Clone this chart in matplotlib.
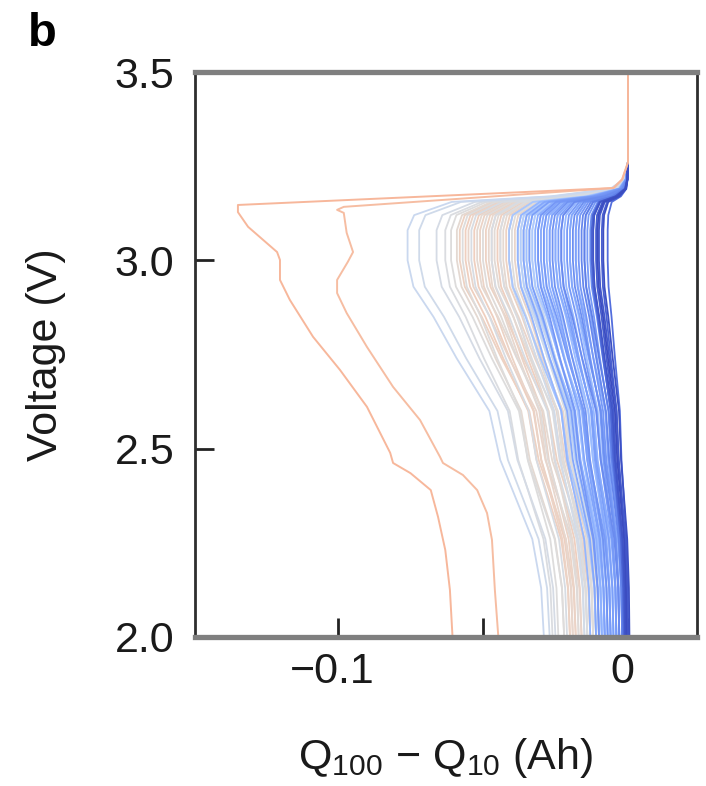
import numpy as np
import matplotlib
matplotlib.use("Agg")
import matplotlib.pyplot as plt
import matplotlib as mpl
import matplotlib.transforms as mtransforms

mpl.rc('font', family=['Liberation Sans', 'DejaVu Sans'], size=31)
mpl.rc('mathtext', fontset='custom', rm='Liberation Sans', it='Liberation Sans',
       default='regular')

# voltage grid of the shape template (V), and how much of the peak / end
# delta-Q each cell's curve carries at that voltage
tmpl_v = [3.50, 3.26, 3.215, 3.19, 3.17, 3.155, 3.12, 3.08, 3.00, 2.93,
          2.85, 2.74, 2.60, 2.47, 2.39, 2.26, 2.13, 2.00]
tmpl_peak = [0, 0, 0.02, 0.08, 0.35, 0.80, 0.97, 1.0, 1.0, 0.957,
             0.81, 0.64, 0.40, 0.32, 0.23, 0.085, 0.02, 0]
tmpl_end = [0, 0, 0, 0, 0, 0, 0, 0, 0, 0.043,
            0.19, 0.36, 0.60, 0.68, 0.77, 0.915, 0.98, 1.0]

# per cell: dQ near 3.0 V, dQ at 2.0 V (Ah), colour position (0 blue .. 1 red)
peak_dq = [
    -0.076, -0.072, -0.066, -0.063, -0.061,
    -0.059, -0.058, -0.057, -0.056, -0.055, -0.054, -0.053, -0.052, -0.051,
    -0.050, -0.049, -0.048, -0.047, -0.047, -0.046, -0.045, -0.044, -0.044,
    -0.043, -0.042, -0.041, -0.041, -0.040, -0.039, -0.038, -0.038, -0.037,
    -0.036, -0.036, -0.035, -0.034, -0.033,
    -0.041, -0.038, -0.037, -0.036, -0.035, -0.034, -0.033, -0.032, -0.031,
    -0.031, -0.030, -0.029, -0.029, -0.028, -0.027, -0.027, -0.026, -0.025,
    -0.025, -0.024, -0.023, -0.023, -0.022, -0.021, -0.020, -0.020, -0.019,
    -0.018, -0.018, -0.017, -0.016, -0.015, -0.015, -0.014, -0.013, -0.012,
    -0.0125, -0.012, -0.011, -0.0105, -0.010, -0.009, -0.0085, -0.007,
]
end_dq = [
    -0.029, -0.027, -0.025, -0.026, -0.022,
    -0.022, -0.018, -0.024, -0.020, -0.016, -0.021, -0.019, -0.014, -0.020,
    -0.017, -0.013, -0.019, -0.015, -0.018, -0.012, -0.016, -0.014, -0.011,
    -0.017, -0.013, -0.015, -0.010, -0.014, -0.012, -0.009, -0.013, -0.011,
    -0.008, -0.012, -0.010, -0.009, -0.011,
    -0.011, -0.013, -0.009, -0.011, -0.008, -0.010, -0.007, -0.009, -0.010,
    -0.006, -0.008, -0.009, -0.006, -0.007, -0.008, -0.005, -0.007, -0.004,
    -0.006, -0.005, -0.006, -0.003, -0.005, -0.004, -0.002, -0.004, -0.003,
    -0.004, -0.001, -0.003, -0.002, -0.003, -0.001, -0.002, -0.001, -0.002,
    -0.0015, -0.001, -0.001, -0.0005, 0.0, -0.0005, 0.0005, 0.0,
]
life_color = [
    0.43, 0.45, 0.47, 0.49, 0.50,
    0.53, 0.57, 0.50, 0.58, 0.55, 0.48, 0.58, 0.53, 0.56,
    0.51, 0.57, 0.54, 0.48, 0.56, 0.52, 0.58, 0.49, 0.55,
    0.53, 0.57, 0.46, 0.54, 0.50, 0.55, 0.44, 0.52, 0.48,
    0.42, 0.50, 0.46, 0.41, 0.44,
    0.33, 0.27, 0.36, 0.23, 0.30, 0.20, 0.34, 0.25, 0.18,
    0.29, 0.22, 0.31, 0.19, 0.26, 0.21, 0.34, 0.17, 0.24,
    0.29, 0.20, 0.23, 0.15, 0.27, 0.19, 0.22, 0.31, 0.16,
    0.21, 0.26, 0.18, 0.14, 0.23, 0.12, 0.19, 0.16, 0.13,
    0.06, 0.02, 0.04, 0.0, 0.03, 0.05, 0.01, 0.08,
]

# the two short-lived cells, traced point by point
red1_v = [3.50, 3.26, 3.215, 3.192, 3.147, 3.128, 3.089, 3.022, 3.001, 2.948,
          2.895, 2.797, 2.709, 2.611, 2.489, 2.462, 2.435, 2.390, 2.319,
          2.231, 2.125, 2.00]
red1_dq = [0, 0, -0.002, -0.005, -0.1345, -0.1345, -0.131, -0.121, -0.120,
           -0.120, -0.1166, -0.1086, -0.0993, -0.090, -0.082, -0.081, -0.075,
           -0.068, -0.0655, -0.063, -0.0614, -0.0605]
red2_v = [3.50, 3.26, 3.215, 3.192, 3.142, 3.134, 3.126, 3.073, 3.022, 2.996,
          2.948, 2.913, 2.860, 2.770, 2.664, 2.576, 2.478, 2.462, 2.430,
          2.390, 2.329, 2.258, 2.125, 2.00]
red2_dq = [0, 0, -0.002, -0.005, -0.098, -0.1003, -0.098, -0.097, -0.0948,
           -0.0966, -0.1003, -0.1003, -0.097, -0.090, -0.081, -0.0717, -0.0648,
           -0.0638, -0.0569, -0.052, -0.0486, -0.0469, -0.0459, -0.0447]
red_color = [0.67, 0.65]

cmap = plt.get_cmap('coolwarm')
v = np.array(tmpl_v)
sp = np.array(tmpl_peak)
se = np.array(tmpl_end)

fig = plt.figure(figsize=(7.06, 7.86), dpi=100)
ax = fig.add_axes([195/706, 1-637/786, 502/706, 565/786])

# grey first, blues on top of them
order = np.argsort(life_color)[::-1]
for i in order:
    q = peak_dq[i]*sp + end_dq[i]*se
    ax.plot(q, v, color=cmap(life_color[i]), lw=1.3, solid_capstyle='butt')

ax.plot(red2_dq, red2_v, color=cmap(red_color[1]), lw=1.4)
ax.plot(red1_dq, red1_v, color=cmap(red_color[0]), lw=1.4)

ax.set_xlim(-0.1493, 0.0238)
ax.set_ylim(2.0, 3.5)
ax.set_xticks([-0.1, -0.05, 0])
ax.set_xticklabels(['\u22120.1', '', '0'])
ax.set_yticks([2.0, 2.5, 3.0, 3.5])
ax.set_yticklabels(['2.0', '2.5', '3.0', '3.5'])
ax.set_axisbelow(True)
ax.tick_params(direction='in', length=14, width=2, color='#222222',
               labelcolor='#1a1a1a')
ax.tick_params(axis='x', pad=11)
ax.tick_params(axis='y', pad=15)

shift = mtransforms.ScaledTranslation(-6/100, 0, fig.dpi_scale_trans)
for lab in ax.get_xticklabels():
    lab.set_transform(lab.get_transform() + shift)

for s in ['top', 'bottom']:
    ax.spines[s].set_color('#7f7f7f')
    ax.spines[s].set_linewidth(3.8)
for s in ['left', 'right']:
    ax.spines[s].set_color('#2e2e2e')
    ax.spines[s].set_linewidth(2)

ax.set_ylabel('Voltage (V)', color='#1a1a1a')
ax.yaxis.set_label_coords(-0.257, 0.5)
ax.set_xlabel('Q$_{100}$ \u2212 Q$_{10}$ (Ah)', color='#1a1a1a')
ax.xaxis.set_label_coords(0.5, -0.175)

fig.text(28/706, 1-12/786, 'b', fontsize=34, fontweight='bold',
         va='top', ha='left')

fig.savefig('out.png', dpi=100)
